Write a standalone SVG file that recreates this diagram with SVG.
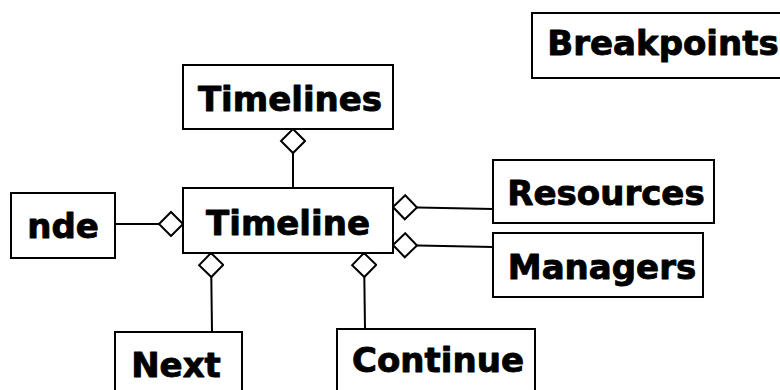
<svg xmlns="http://www.w3.org/2000/svg" width="780" height="390" viewBox="0 0 780 390">
  <style>
    .box { fill: #ffffff; stroke: #000000; stroke-width: 2; }
    .label { font-family: "DejaVu Sans", "Liberation Sans", sans-serif; font-weight: bold; font-size: 34px; fill: #000000; stroke: #000000; stroke-width: 0.9; stroke-linejoin: round; text-anchor: middle; }
    .link { fill: none; stroke: #000000; stroke-width: 2; marker-start: url(#agg); }
  </style>
  <defs>
    <!-- hollow aggregation diamond, apex on the owning box -->
    <marker id="agg" markerUnits="userSpaceOnUse" markerWidth="28" markerHeight="28" viewBox="0 0 28 28" refX="1" refY="13" orient="auto">
      <path d="M1,13 L13,1 L25,13 L13,25 Z" fill="#ffffff" stroke="#000000" stroke-width="2"/>
    </marker>
  </defs>
  <rect width="780" height="390" fill="#ffffff"/>

  <g id="connectors">
    <path class="link" d="M293,129 L293,188"/>
    <path class="link" d="M183,224 L115,224"/>
    <path class="link" d="M393,207 L493,209"/>
    <path class="link" d="M393,245 L493,247"/>
    <path class="link" d="M211,253 L212,332"/>
    <path class="link" d="M364,253 L365,329"/>
  </g>

  <g id="breakpoints">
    <rect class="box" x="532" y="13" width="262" height="65"/>
    <text class="label" x="663" y="55">Breakpoints</text>
  </g>
  <g id="timelines">
    <rect class="box" x="183" y="65" width="210" height="64"/>
    <text class="label" x="290" y="111">Timelines</text>
  </g>
  <g id="timeline">
    <rect class="box" x="183" y="188" width="210" height="65"/>
    <text class="label" x="288" y="235">Timeline</text>
  </g>
  <g id="nde">
    <rect class="box" x="11" y="193" width="104" height="65"/>
    <text class="label" x="63" y="238">nde</text>
  </g>
  <g id="resources">
    <rect class="box" x="493" y="160" width="221" height="63"/>
    <text class="label" x="606" y="205">Resources</text>
  </g>
  <g id="managers">
    <rect class="box" x="493" y="233" width="210" height="64"/>
    <text class="label" x="602" y="279">Managers</text>
  </g>
  <g id="next">
    <rect class="box" x="115" y="332" width="127" height="70"/>
    <text class="label" x="176" y="377">Next</text>
  </g>
  <g id="continue">
    <rect class="box" x="337" y="329" width="198" height="70"/>
    <text class="label" x="438" y="372">Continue</text>
  </g>
</svg>
